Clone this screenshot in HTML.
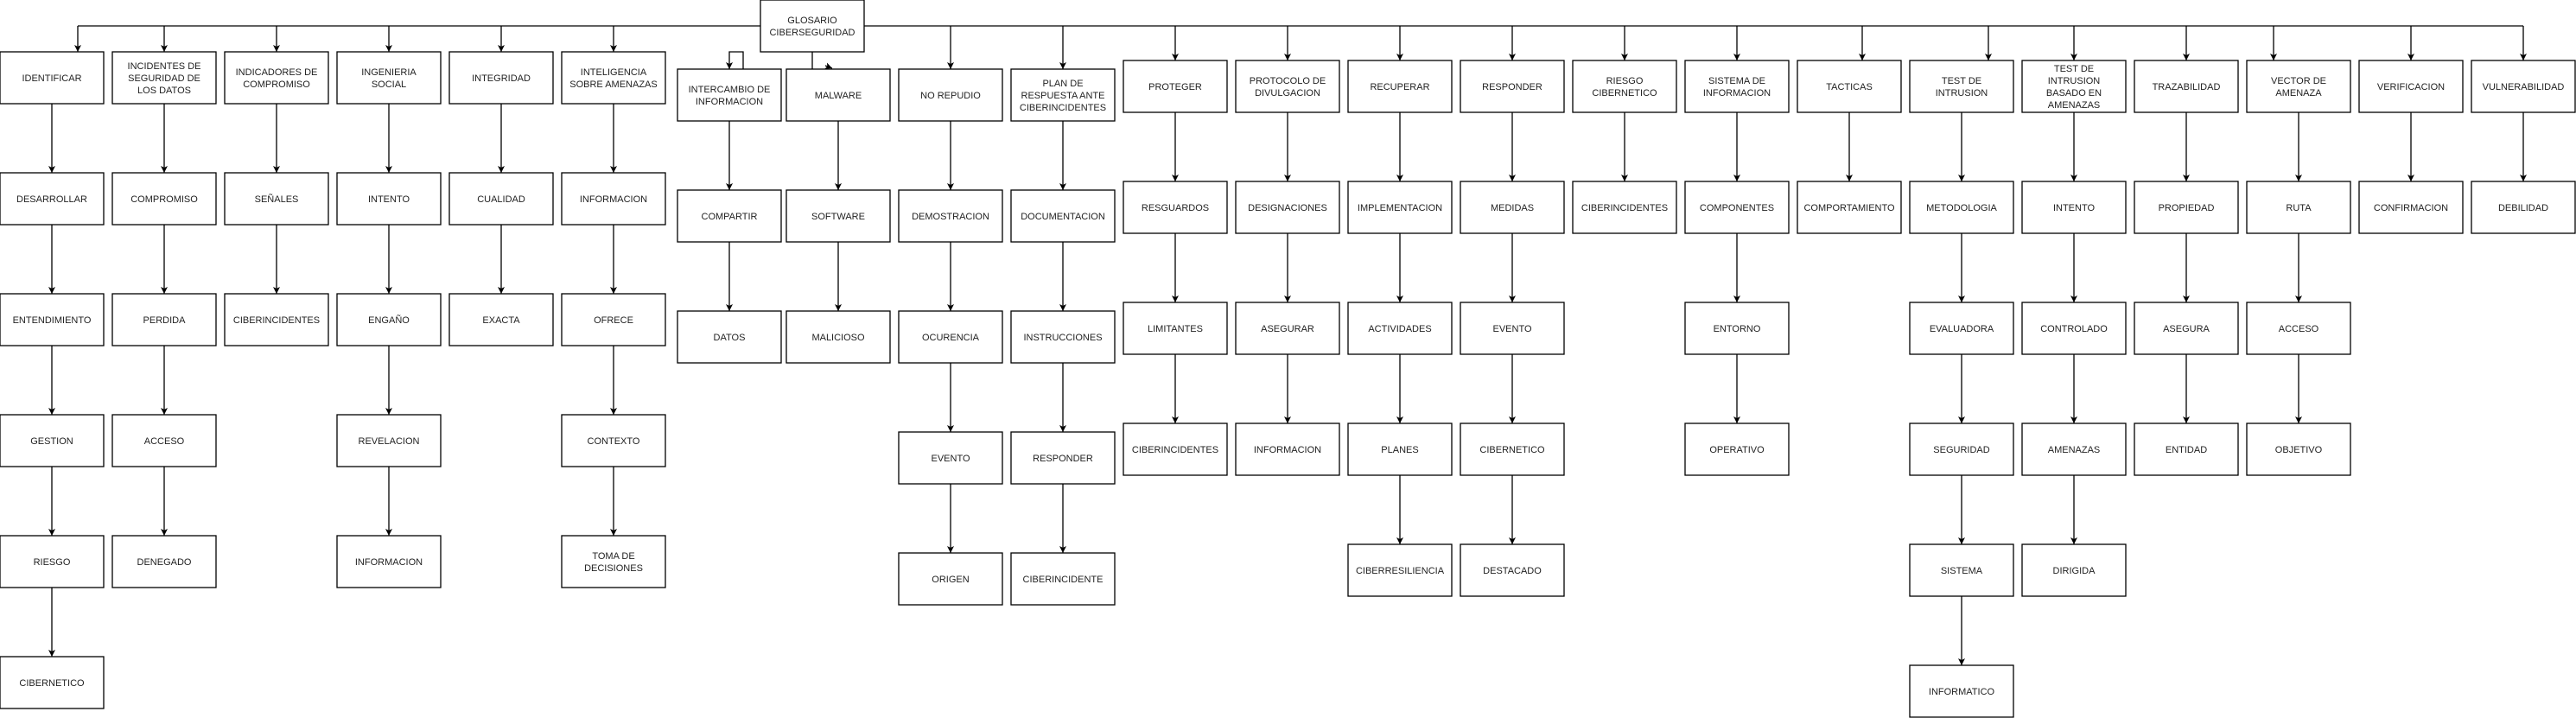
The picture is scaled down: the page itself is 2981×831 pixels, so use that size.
<!DOCTYPE html>
<html><head><meta charset="utf-8"><style>
html,body{margin:0;padding:0;background:#fff;}
svg{display:block;}
rect{fill:#fff;stroke:#000;stroke-width:1.3;}
line,path.c{stroke:#000;stroke-width:1.3;fill:none;}
text{font-family:"Liberation Sans","DejaVu Sans",sans-serif;font-size:11px;fill:#222;text-anchor:middle;}
</style></head><body>
<svg width="2981" height="831" viewBox="0 0 2981 831" xmlns="http://www.w3.org/2000/svg">
<defs><marker id="a" markerUnits="userSpaceOnUse" markerWidth="9" markerHeight="9" refX="8" refY="4" orient="auto"><path d="M0,0 L8,4 L0,8 L2,4 z" fill="#000"/></marker></defs>

<!-- top line -->
<line x1="90" y1="30" x2="2920" y2="30"/>
<g marker-end="url(#a)">
<line x1="90" y1="30" x2="90" y2="60"/><line x1="190" y1="30" x2="190" y2="60"/><line x1="320" y1="30" x2="320" y2="60"/><line x1="450" y1="30" x2="450" y2="60"/><line x1="580" y1="30" x2="580" y2="60"/><line x1="710" y1="30" x2="710" y2="60"/>
<line x1="1100" y1="30" x2="1100" y2="80"/><line x1="1230" y1="30" x2="1230" y2="80"/>
<line x1="1360" y1="30" x2="1360" y2="70"/><line x1="1490" y1="30" x2="1490" y2="70"/><line x1="1620" y1="30" x2="1620" y2="70"/><line x1="1750" y1="30" x2="1750" y2="70"/><line x1="1880" y1="30" x2="1880" y2="70"/><line x1="2010" y1="30" x2="2010" y2="70"/><line x1="2155" y1="30" x2="2155" y2="70"/><line x1="2301" y1="30" x2="2301" y2="70"/><line x1="2400" y1="30" x2="2400" y2="70"/><line x1="2530" y1="30" x2="2530" y2="70"/><line x1="2631" y1="30" x2="2631" y2="70"/><line x1="2790" y1="30" x2="2790" y2="70"/><line x1="2920" y1="30" x2="2920" y2="70"/>
<path class="c" d="M860,80 V60 H844 V80"/>
<line x1="955" y1="76" x2="963" y2="79"/>
</g>
<line x1="940" y1="60" x2="940" y2="80"/>

<!-- vertical connectors -->
<g marker-end="url(#a)">
<!-- left: rows 60+140r -->
<line x1="60" y1="120" x2="60" y2="200"/><line x1="60" y1="260" x2="60" y2="340"/><line x1="60" y1="400" x2="60" y2="480"/><line x1="60" y1="540" x2="60" y2="620"/><line x1="60" y1="680" x2="60" y2="760"/>
<line x1="190" y1="120" x2="190" y2="200"/><line x1="190" y1="260" x2="190" y2="340"/><line x1="190" y1="400" x2="190" y2="480"/><line x1="190" y1="540" x2="190" y2="620"/>
<line x1="320" y1="120" x2="320" y2="200"/><line x1="320" y1="260" x2="320" y2="340"/>
<line x1="450" y1="120" x2="450" y2="200"/><line x1="450" y1="260" x2="450" y2="340"/><line x1="450" y1="400" x2="450" y2="480"/><line x1="450" y1="540" x2="450" y2="620"/>
<line x1="580" y1="120" x2="580" y2="200"/><line x1="580" y1="260" x2="580" y2="340"/>
<line x1="710" y1="120" x2="710" y2="200"/><line x1="710" y1="260" x2="710" y2="340"/><line x1="710" y1="400" x2="710" y2="480"/><line x1="710" y1="540" x2="710" y2="620"/>
<!-- middle: rows 80+140r -->
<line x1="844" y1="140" x2="844" y2="220"/><line x1="844" y1="280" x2="844" y2="360"/>
<line x1="970" y1="140" x2="970" y2="220"/><line x1="970" y1="280" x2="970" y2="360"/>
<line x1="1100" y1="140" x2="1100" y2="220"/><line x1="1100" y1="280" x2="1100" y2="360"/><line x1="1100" y1="420" x2="1100" y2="500"/><line x1="1100" y1="560" x2="1100" y2="640"/>
<line x1="1230" y1="140" x2="1230" y2="220"/><line x1="1230" y1="280" x2="1230" y2="360"/><line x1="1230" y1="420" x2="1230" y2="500"/><line x1="1230" y1="560" x2="1230" y2="640"/>
<!-- right: rows 70+140r -->
<line x1="1360" y1="130" x2="1360" y2="210"/><line x1="1360" y1="270" x2="1360" y2="350"/><line x1="1360" y1="410" x2="1360" y2="490"/>
<line x1="1490" y1="130" x2="1490" y2="210"/><line x1="1490" y1="270" x2="1490" y2="350"/><line x1="1490" y1="410" x2="1490" y2="490"/>
<line x1="1620" y1="130" x2="1620" y2="210"/><line x1="1620" y1="270" x2="1620" y2="350"/><line x1="1620" y1="410" x2="1620" y2="490"/><line x1="1620" y1="550" x2="1620" y2="630"/>
<line x1="1750" y1="130" x2="1750" y2="210"/><line x1="1750" y1="270" x2="1750" y2="350"/><line x1="1750" y1="410" x2="1750" y2="490"/><line x1="1750" y1="550" x2="1750" y2="630"/>
<line x1="1880" y1="130" x2="1880" y2="210"/>
<line x1="2010" y1="130" x2="2010" y2="210"/><line x1="2010" y1="270" x2="2010" y2="350"/><line x1="2010" y1="410" x2="2010" y2="490"/>
<line x1="2140" y1="130" x2="2140" y2="210"/>
<line x1="2270" y1="130" x2="2270" y2="210"/><line x1="2270" y1="270" x2="2270" y2="350"/><line x1="2270" y1="410" x2="2270" y2="490"/><line x1="2270" y1="550" x2="2270" y2="630"/><line x1="2270" y1="690" x2="2270" y2="770"/>
<line x1="2400" y1="130" x2="2400" y2="210"/><line x1="2400" y1="270" x2="2400" y2="350"/><line x1="2400" y1="410" x2="2400" y2="490"/><line x1="2400" y1="550" x2="2400" y2="630"/>
<line x1="2530" y1="130" x2="2530" y2="210"/><line x1="2530" y1="270" x2="2530" y2="350"/><line x1="2530" y1="410" x2="2530" y2="490"/>
<line x1="2660" y1="130" x2="2660" y2="210"/><line x1="2660" y1="270" x2="2660" y2="350"/><line x1="2660" y1="410" x2="2660" y2="490"/>
<line x1="2790" y1="130" x2="2790" y2="210"/>
<line x1="2920" y1="130" x2="2920" y2="210"/>
</g>

<!-- Glosario -->
<rect x="880" y="0" width="120" height="60"/>
<text x="940" y="27">GLOSARIO</text><text x="940" y="41">CIBERSEGURIDAD</text>

<!-- LEFT boxes -->
<g>
<rect x="0" y="60" width="120" height="60"/><text x="60" y="94">IDENTIFICAR</text>
<rect x="0" y="200" width="120" height="60"/><text x="60" y="234">DESARROLLAR</text>
<rect x="0" y="340" width="120" height="60"/><text x="60" y="374">ENTENDIMIENTO</text>
<rect x="0" y="480" width="120" height="60"/><text x="60" y="514">GESTION</text>
<rect x="0" y="620" width="120" height="60"/><text x="60" y="654">RIESGO</text>
<rect x="0" y="760" width="120" height="60"/><text x="60" y="794">CIBERNETICO</text>

<rect x="130" y="60" width="120" height="60"/><text x="190" y="80">INCIDENTES DE</text><text x="190" y="94">SEGURIDAD DE</text><text x="190" y="108">LOS DATOS</text>
<rect x="130" y="200" width="120" height="60"/><text x="190" y="234">COMPROMISO</text>
<rect x="130" y="340" width="120" height="60"/><text x="190" y="374">PERDIDA</text>
<rect x="130" y="480" width="120" height="60"/><text x="190" y="514">ACCESO</text>
<rect x="130" y="620" width="120" height="60"/><text x="190" y="654">DENEGADO</text>

<rect x="260" y="60" width="120" height="60"/><text x="320" y="87">INDICADORES DE</text><text x="320" y="101">COMPROMISO</text>
<rect x="260" y="200" width="120" height="60"/><text x="320" y="234">SEÑALES</text>
<rect x="260" y="340" width="120" height="60"/><text x="320" y="374">CIBERINCIDENTES</text>

<rect x="390" y="60" width="120" height="60"/><text x="450" y="87">INGENIERIA</text><text x="450" y="101">SOCIAL</text>
<rect x="390" y="200" width="120" height="60"/><text x="450" y="234">INTENTO</text>
<rect x="390" y="340" width="120" height="60"/><text x="450" y="374">ENGAÑO</text>
<rect x="390" y="480" width="120" height="60"/><text x="450" y="514">REVELACION</text>
<rect x="390" y="620" width="120" height="60"/><text x="450" y="654">INFORMACION</text>

<rect x="520" y="60" width="120" height="60"/><text x="580" y="94">INTEGRIDAD</text>
<rect x="520" y="200" width="120" height="60"/><text x="580" y="234">CUALIDAD</text>
<rect x="520" y="340" width="120" height="60"/><text x="580" y="374">EXACTA</text>

<rect x="650" y="60" width="120" height="60"/><text x="710" y="87">INTELIGENCIA</text><text x="710" y="101">SOBRE AMENAZAS</text>
<rect x="650" y="200" width="120" height="60"/><text x="710" y="234">INFORMACION</text>
<rect x="650" y="340" width="120" height="60"/><text x="710" y="374">OFRECE</text>
<rect x="650" y="480" width="120" height="60"/><text x="710" y="514">CONTEXTO</text>
<rect x="650" y="620" width="120" height="60"/><text x="710" y="647">TOMA DE</text><text x="710" y="661">DECISIONES</text>
</g>

<!-- MIDDLE boxes -->
<g>
<rect x="784" y="80" width="120" height="60"/><text x="844" y="107">INTERCAMBIO DE</text><text x="844" y="121">INFORMACION</text>
<rect x="784" y="220" width="120" height="60"/><text x="844" y="254">COMPARTIR</text>
<rect x="784" y="360" width="120" height="60"/><text x="844" y="394">DATOS</text>

<rect x="910" y="80" width="120" height="60"/><text x="970" y="114">MALWARE</text>
<rect x="910" y="220" width="120" height="60"/><text x="970" y="254">SOFTWARE</text>
<rect x="910" y="360" width="120" height="60"/><text x="970" y="394">MALICIOSO</text>

<rect x="1040" y="80" width="120" height="60"/><text x="1100" y="114">NO REPUDIO</text>
<rect x="1040" y="220" width="120" height="60"/><text x="1100" y="254">DEMOSTRACION</text>
<rect x="1040" y="360" width="120" height="60"/><text x="1100" y="394">OCURENCIA</text>
<rect x="1040" y="500" width="120" height="60"/><text x="1100" y="534">EVENTO</text>
<rect x="1040" y="640" width="120" height="60"/><text x="1100" y="674">ORIGEN</text>

<rect x="1170" y="80" width="120" height="60"/><text x="1230" y="100">PLAN DE</text><text x="1230" y="114">RESPUESTA ANTE</text><text x="1230" y="128">CIBERINCIDENTES</text>
<rect x="1170" y="220" width="120" height="60"/><text x="1230" y="254">DOCUMENTACION</text>
<rect x="1170" y="360" width="120" height="60"/><text x="1230" y="394">INSTRUCCIONES</text>
<rect x="1170" y="500" width="120" height="60"/><text x="1230" y="534">RESPONDER</text>
<rect x="1170" y="640" width="120" height="60"/><text x="1230" y="674">CIBERINCIDENTE</text>
</g>

<!-- RIGHT boxes -->
<g>
<rect x="1300" y="70" width="120" height="60"/><text x="1360" y="104">PROTEGER</text>
<rect x="1300" y="210" width="120" height="60"/><text x="1360" y="244">RESGUARDOS</text>
<rect x="1300" y="350" width="120" height="60"/><text x="1360" y="384">LIMITANTES</text>
<rect x="1300" y="490" width="120" height="60"/><text x="1360" y="524">CIBERINCIDENTES</text>

<rect x="1430" y="70" width="120" height="60"/><text x="1490" y="97">PROTOCOLO DE</text><text x="1490" y="111">DIVULGACION</text>
<rect x="1430" y="210" width="120" height="60"/><text x="1490" y="244">DESIGNACIONES</text>
<rect x="1430" y="350" width="120" height="60"/><text x="1490" y="384">ASEGURAR</text>
<rect x="1430" y="490" width="120" height="60"/><text x="1490" y="524">INFORMACION</text>

<rect x="1560" y="70" width="120" height="60"/><text x="1620" y="104">RECUPERAR</text>
<rect x="1560" y="210" width="120" height="60"/><text x="1620" y="244">IMPLEMENTACION</text>
<rect x="1560" y="350" width="120" height="60"/><text x="1620" y="384">ACTIVIDADES</text>
<rect x="1560" y="490" width="120" height="60"/><text x="1620" y="524">PLANES</text>
<rect x="1560" y="630" width="120" height="60"/><text x="1620" y="664">CIBERRESILIENCIA</text>

<rect x="1690" y="70" width="120" height="60"/><text x="1750" y="104">RESPONDER</text>
<rect x="1690" y="210" width="120" height="60"/><text x="1750" y="244">MEDIDAS</text>
<rect x="1690" y="350" width="120" height="60"/><text x="1750" y="384">EVENTO</text>
<rect x="1690" y="490" width="120" height="60"/><text x="1750" y="524">CIBERNETICO</text>
<rect x="1690" y="630" width="120" height="60"/><text x="1750" y="664">DESTACADO</text>

<rect x="1820" y="70" width="120" height="60"/><text x="1880" y="97">RIESGO</text><text x="1880" y="111">CIBERNETICO</text>
<rect x="1820" y="210" width="120" height="60"/><text x="1880" y="244">CIBERINCIDENTES</text>

<rect x="1950" y="70" width="120" height="60"/><text x="2010" y="97">SISTEMA DE</text><text x="2010" y="111">INFORMACION</text>
<rect x="1950" y="210" width="120" height="60"/><text x="2010" y="244">COMPONENTES</text>
<rect x="1950" y="350" width="120" height="60"/><text x="2010" y="384">ENTORNO</text>
<rect x="1950" y="490" width="120" height="60"/><text x="2010" y="524">OPERATIVO</text>

<rect x="2080" y="70" width="120" height="60"/><text x="2140" y="104">TACTICAS</text>
<rect x="2080" y="210" width="120" height="60"/><text x="2140" y="244">COMPORTAMIENTO</text>

<rect x="2210" y="70" width="120" height="60"/><text x="2270" y="97">TEST DE</text><text x="2270" y="111">INTRUSION</text>
<rect x="2210" y="210" width="120" height="60"/><text x="2270" y="244">METODOLOGIA</text>
<rect x="2210" y="350" width="120" height="60"/><text x="2270" y="384">EVALUADORA</text>
<rect x="2210" y="490" width="120" height="60"/><text x="2270" y="524">SEGURIDAD</text>
<rect x="2210" y="630" width="120" height="60"/><text x="2270" y="664">SISTEMA</text>
<rect x="2210" y="770" width="120" height="60"/><text x="2270" y="804">INFORMATICO</text>

<rect x="2340" y="70" width="120" height="60"/><text x="2400" y="83">TEST DE</text><text x="2400" y="97">INTRUSION</text><text x="2400" y="111">BASADO EN</text><text x="2400" y="125">AMENAZAS</text>
<rect x="2340" y="210" width="120" height="60"/><text x="2400" y="244">INTENTO</text>
<rect x="2340" y="350" width="120" height="60"/><text x="2400" y="384">CONTROLADO</text>
<rect x="2340" y="490" width="120" height="60"/><text x="2400" y="524">AMENAZAS</text>
<rect x="2340" y="630" width="120" height="60"/><text x="2400" y="664">DIRIGIDA</text>

<rect x="2470" y="70" width="120" height="60"/><text x="2530" y="104">TRAZABILIDAD</text>
<rect x="2470" y="210" width="120" height="60"/><text x="2530" y="244">PROPIEDAD</text>
<rect x="2470" y="350" width="120" height="60"/><text x="2530" y="384">ASEGURA</text>
<rect x="2470" y="490" width="120" height="60"/><text x="2530" y="524">ENTIDAD</text>

<rect x="2600" y="70" width="120" height="60"/><text x="2660" y="97">VECTOR DE</text><text x="2660" y="111">AMENAZA</text>
<rect x="2600" y="210" width="120" height="60"/><text x="2660" y="244">RUTA</text>
<rect x="2600" y="350" width="120" height="60"/><text x="2660" y="384">ACCESO</text>
<rect x="2600" y="490" width="120" height="60"/><text x="2660" y="524">OBJETIVO</text>

<rect x="2730" y="70" width="120" height="60"/><text x="2790" y="104">VERIFICACION</text>
<rect x="2730" y="210" width="120" height="60"/><text x="2790" y="244">CONFIRMACION</text>

<rect x="2860" y="70" width="120" height="60"/><text x="2920" y="104">VULNERABILIDAD</text>
<rect x="2860" y="210" width="120" height="60"/><text x="2920" y="244">DEBILIDAD</text>
</g>
</svg>
</body></html>
